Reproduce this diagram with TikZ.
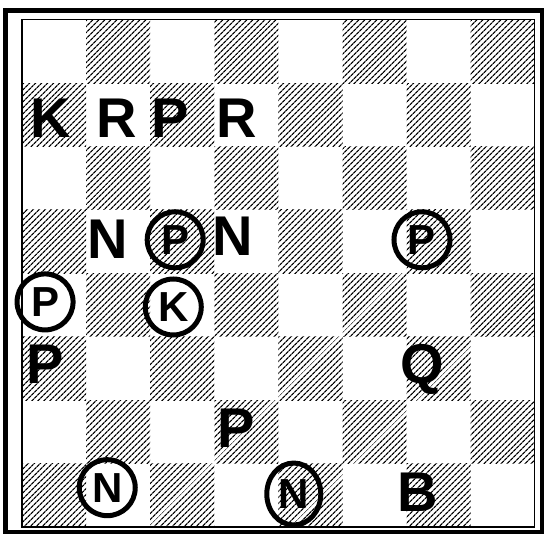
\documentclass[tikz,border=0pt]{standalone}
\usepackage{fontspec}
\setmainfont{Liberation Sans}
\usetikzlibrary{patterns.meta, shapes.geometric}

\begin{document}
\begin{tikzpicture}[dark/.style={pattern={Lines[angle=45, distance=4pt, line width=1.3pt]}},
  piece/.style={font=\fontsize{56}{56}\selectfont\bfseries, inner sep=0pt},
  ringed/.style={circle, draw, line width=5pt, inner sep=0pt, minimum size=56pt, font=\fontsize{42}{42}\selectfont\bfseries}]

  \useasboundingbox (0,0) rectangle (545pt,537pt);
  \draw[line width=4.5pt] (5.5pt,5pt) rectangle (542pt,526.5pt);

  \begin{scope}[shift={(22pt,10pt)}, x=64.1pt, y=63.4pt]
    % squares
    \foreach \c in {0,...,7}
      \foreach \r in {0,...,7} {
        \pgfmathparse{int(mod(\c+\r,2))}
        \ifnum\pgfmathresult=0 \fill[dark] (\c,\r) rectangle ++(1,1); \fi
      }
    \draw[line width=1.2pt] (0,0) rectangle (8,8);

    % pieces
    \node[piece] (kingA) at (0.45,6.45) {K};
    \node[piece] (rookA) at (1.47,6.45) {R};
    \node[piece] (pawnA) at (2.31,6.45) {P};
    \node[piece] (rookB) at (3.35,6.45) {R};

    \node[piece] (knightA) at (1.33,4.54) {N};
    \node[ringed] (pawnB) at (2.39,4.53) {P};
    \node[piece] (knightB) at (3.28,4.59) {N};
    \node[ringed] (pawnC) at (6.24,4.53) {P};

    \node[ringed] (pawnD) at (0.36,3.55) {P};
    \node[ringed] (kingB) at (2.36,3.47) {K};

    \node[piece] (pawnE) at (0.36,2.57) {P};
    \node[piece] (queen) at (6.24,2.48) {Q};

    \node[piece] (pawnF) at (3.34,1.56) {P};

    \node[ringed] (knightC) at (1.33,0.62) {N};
    \node[ringed, ellipse, minimum width=54pt, minimum height=62pt] (knightD) at (4.24,0.52) {N};
    \node[piece] (bishop) at (6.18,0.55) {B};
  \end{scope}

\end{tikzpicture}
\end{document}
